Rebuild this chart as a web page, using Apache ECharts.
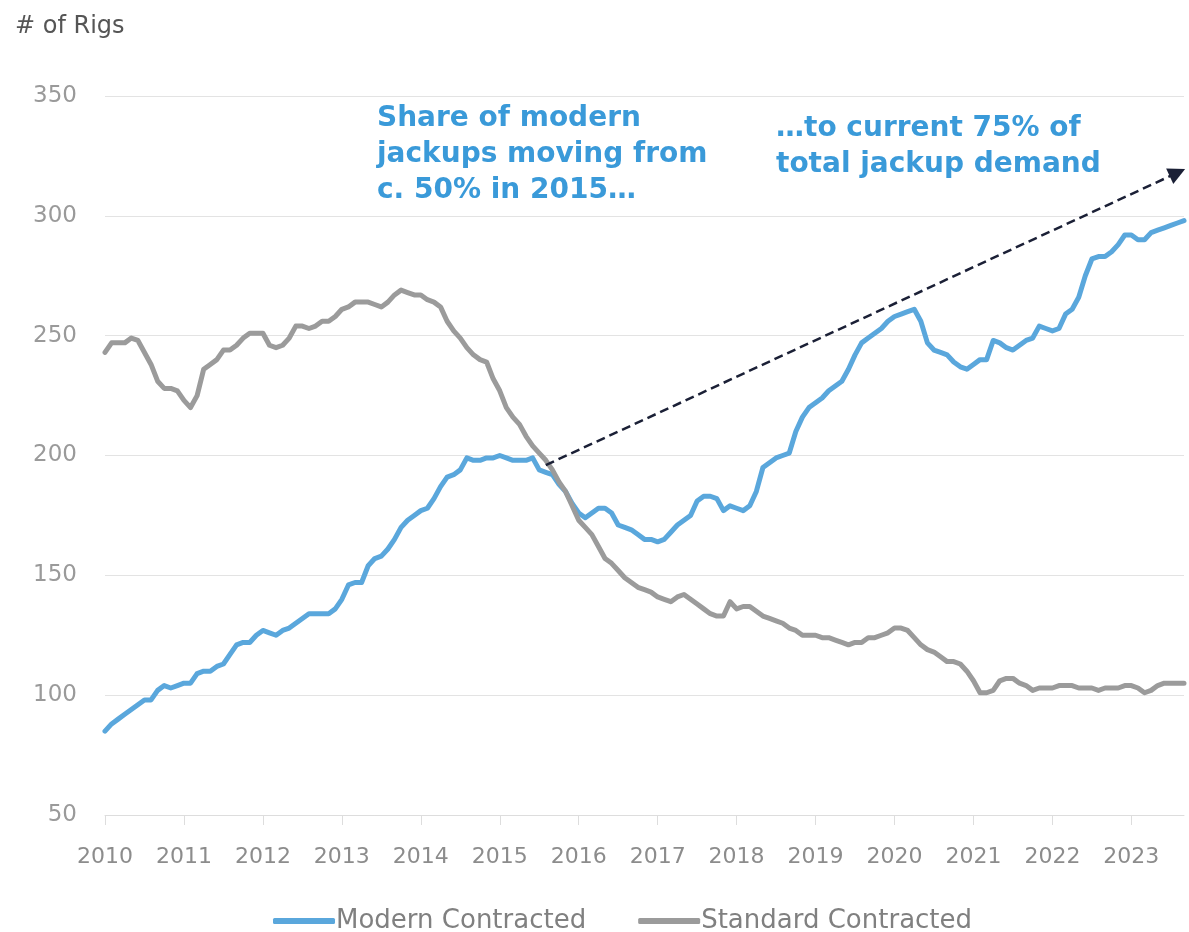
<!DOCTYPE html>
<html>
<head>
<meta charset="utf-8">
<script src="https://cdn.jsdelivr.net/npm/echarts@6/dist/echarts.min.js"></script>
<style>
  html, body { margin: 0; padding: 0; background: #ffffff; }
  #chart { width: 1189px; height: 932px; }
</style>
</head>
<body>
<div id="chart"></div>
<script>
// Monthly contracted jackup rig counts, Jan 2010 – Sep 2023
const startYear = 2010;

const modernContracted = [
  85, 88, 90, 92, 94, 96, 98, 98, 102, 104, 103, 104,
  105, 105, 109, 110, 110, 112, 113, 117, 121, 122, 122, 125,
  127, 126, 125, 127, 128, 130, 132, 134, 134, 134, 134, 136,
  140, 146, 147, 147, 154, 157, 158, 161, 165, 170, 173, 175,
  177, 178, 182, 187, 191, 192, 194, 199, 198, 198, 199, 199,
  200, 199, 198, 198, 198, 199, 194, 193, 192, 188, 185, 180,
  176, 174, 176, 178, 178, 176, 171, 170, 169, 167, 165, 165,
  164, 165, 168, 171, 173, 175, 181, 183, 183, 182, 177, 179,
  178, 177, 179, 185, 195, 197, 199, 200, 201, 210, 216, 220,
  222, 224, 227, 229, 231, 236, 242, 247, 249, 251, 253, 256,
  258, 259, 260, 261, 256, 247, 244, 243, 242, 239, 237, 236,
  238, 240, 240, 248, 247, 245, 244, 246, 248, 249, 254, 253,
  252, 253, 259, 261, 266, 275, 282, 283, 283, 285, 288, 292,
  292, 290, 290, 293, 294, 295, 296, 297, 298
];

const standardContracted = [
  243, 247, 247, 247, 249, 248, 243, 238, 231, 228, 228, 227,
  223, 220, 225, 236, 238, 240, 244, 244, 246, 249, 251, 251,
  251, 246, 245, 246, 249, 254, 254, 253, 254, 256, 256, 258,
  261, 262, 264, 264, 264, 263, 262, 264, 267, 269, 268, 267,
  267, 265, 264, 262, 256, 252, 249, 245, 242, 240, 239, 232,
  227, 220, 216, 213, 208, 204, 201, 198, 194, 189, 185, 179,
  173, 170, 167, 162, 157, 155, 152, 149, 147, 145, 144, 143,
  141, 140, 139, 141, 142, 140, 138, 136, 134, 133, 133, 139,
  136, 137, 137, 135, 133, 132, 131, 130, 128, 127, 125, 125,
  125, 124, 124, 123, 122, 121, 122, 122, 124, 124, 125, 126,
  128, 128, 127, 124, 121, 119, 118, 116, 114, 114, 113, 110,
  106, 101, 101, 102, 106, 107, 107, 105, 104, 102, 103, 103,
  103, 104, 104, 104, 103, 103, 103, 102, 103, 103, 103, 104,
  104, 103, 101, 102, 104, 105, 105, 105, 105
];

const yTicks = { min: 50, max: 350, step: 50 };

// Trend arrow from the mid-2015 crossover to the latest share
const trendStart = { month: '2015-08', value: 196 };
const trendEnd = { month: '2023-08', value: 318 };

const annotationLeft = ['Share of modern', 'jackups moving from', 'c. 50% in 2015\u2026'];
const annotationRight = ['\u2026to current 75% of', 'total jackup demand'];

const months = modernContracted.map((_, i) =>
  (startYear + Math.floor(i / 12)) + '-' + String(i % 12 + 1).padStart(2, '0'));

const FONT = '"DejaVu Sans", "Noto Sans", sans-serif';
const BLUE = '#5aa7dc';
const GREY = '#9b9b9b';
const NOTE = '#3a9ad9';

const chart = echarts.init(document.getElementById('chart'));
chart.setOption({
  animation: false,
  backgroundColor: '#ffffff',
  textStyle: { fontFamily: FONT },
  title: {
    text: '# of Rigs',
    left: 10,
    top: 10,
    textStyle: { fontFamily: FONT, fontSize: 24, fontWeight: 'normal', color: '#555555' }
  },
  grid: { left: 105, right: 5, top: 96, bottom: 117, containLabel: false },
  legend: {
    left: 268,
    top: 903,
    itemGap: 52,
    itemWidth: 62,
    itemHeight: 6,
    icon: 'roundRect',
    textStyle: { fontFamily: FONT, fontSize: 26, color: '#808080', padding: [0, 0, 0, -4] },
    data: ['Modern Contracted', 'Standard Contracted']
  },
  xAxis: {
    type: 'category',
    data: months,
    boundaryGap: false,
    axisLine: { lineStyle: { color: '#dddddd', width: 1 } },
    axisTick: {
      length: 10,
      lineStyle: { color: '#dddddd' },
      interval: (i) => i % 12 === 0
    },
    axisLabel: {
      interval: (i) => i % 12 === 0,
      formatter: (v) => v.slice(0, 4),
      margin: 31,
      fontSize: 22,
      color: '#8c8c8c',
      fontFamily: FONT
    },
    splitLine: { show: false }
  },
  yAxis: {
    type: 'value',
    min: yTicks.min,
    max: yTicks.max,
    interval: yTicks.step,
    axisLine: { show: false },
    axisTick: { show: false },
    axisLabel: { margin: 28, fontSize: 23, color: '#9a9a9a', fontFamily: FONT },
    splitLine: { lineStyle: { color: '#e3e3e3', width: 1.2 } }
  },
  series: [
    {
      name: 'Modern Contracted',
      type: 'line',
      data: modernContracted,
      showSymbol: false,
      symbol: 'none',
      lineStyle: { color: BLUE, width: 5, cap: 'round', join: 'round' },
      itemStyle: { color: BLUE },
      z: 2
    },
    {
      name: 'Standard Contracted',
      type: 'line',
      data: standardContracted,
      showSymbol: false,
      symbol: 'none',
      lineStyle: { color: GREY, width: 5, cap: 'round', join: 'round' },
      itemStyle: { color: GREY },
      z: 3,
      markLine: {
        silent: true,
        symbol: ['none', 'triangle'],
        symbolSize: 17,
        label: { show: false },
        lineStyle: { color: '#1b2036', width: 2.5, type: [9, 5] },
        data: [[
          { coord: [trendStart.month, trendStart.value] },
          { coord: [trendEnd.month, trendEnd.value] }
        ]]
      }
    }
  ],
  graphic: [
    {
      type: 'text',
      left: 377,
      top: 101,
      style: {
        text: annotationLeft.join('\n'),
        fill: NOTE,
        font: 'bold 28px ' + FONT,
        lineHeight: 36
      }
    },
    {
      type: 'text',
      left: 776,
      top: 111,
      style: {
        text: annotationRight.join('\n'),
        fill: NOTE,
        font: 'bold 28px ' + FONT,
        lineHeight: 36
      }
    }
  ]
});
</script>
</body>
</html>
